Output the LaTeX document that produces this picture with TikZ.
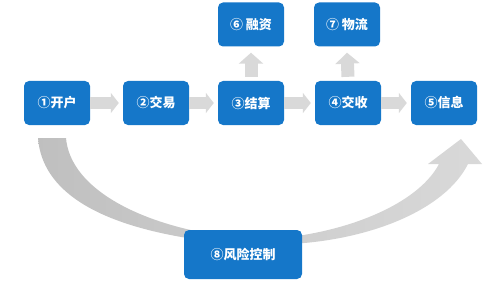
\documentclass[tikz,border=0pt]{standalone}
\usepackage{fontspec}
\newfontfamily\cjk{Noto Sans CJK SC}
\usetikzlibrary{arrows.meta,positioning}
\definecolor{boxblue}{RGB}{21,119,201}
\definecolor{flowgray}{RGB}{217,217,217}

\begin{document}
\begin{tikzpicture}[x=1pt,y=-1pt,>=Latex,
  stepbox/.style={fill=boxblue,rounded corners=5pt,minimum width=66pt,minimum height=44pt,inner sep=0pt,text=white,font=\cjk\bfseries\fontsize{13}{13}\selectfont},
  flow/.style={draw=flowgray,line width=12pt,shorten >=4pt,-{Triangle[width=20pt,length=8pt]}},
  liftarrow/.style={draw=flowgray,line width=13pt,-{Triangle[width=24pt,length=11pt]}}]
\useasboundingbox (0,0) rectangle (500,302);
% the big curved arrow under the risk box
\shade[left color=gray!50,right color=gray!42] (38,138) .. controls (42,190) and (95,225) .. (200,240) -- (200,232) .. controls (130,218) and (70,185) .. (66,138) -- cycle;
\shade[left color=gray!38,right color=gray!30] (290,237) .. controls (360,228) and (420,200) .. (439,164) -- (428,164) -- (461,139) -- (482,164) -- (468,164) .. controls (445,210) and (370,240) .. (290,244) -- cycle;
% boxes
\foreach \n/\x/\t in {1/57/①开户,2/156/②交易,3/251/③结算,4/348/④交收,5/444/⑤信息}
  \node[stepbox] (s\n) at (\x,103) {\t};
\node[stepbox] (s6) at (251,24.5) {⑥ 融资};
\node[stepbox] (s7) at (347,24.5) {⑦ 物流};
\node[stepbox,minimum width=118pt,minimum height=49pt] (s8) at (243,254.5) {⑧风险控制};
% arrows
\foreach \a/\b in {1/2,2/3,3/4,4/5}
  \draw[flow] (s\a.east) -- (s\b.west);
\draw[liftarrow] ([yshift=4pt]s3.north) -- ([yshift=-6pt]s6.south);
\draw[liftarrow] ([yshift=4pt]s4.north) -- ([yshift=-6pt]s7.south);
\end{tikzpicture}
\end{document}
